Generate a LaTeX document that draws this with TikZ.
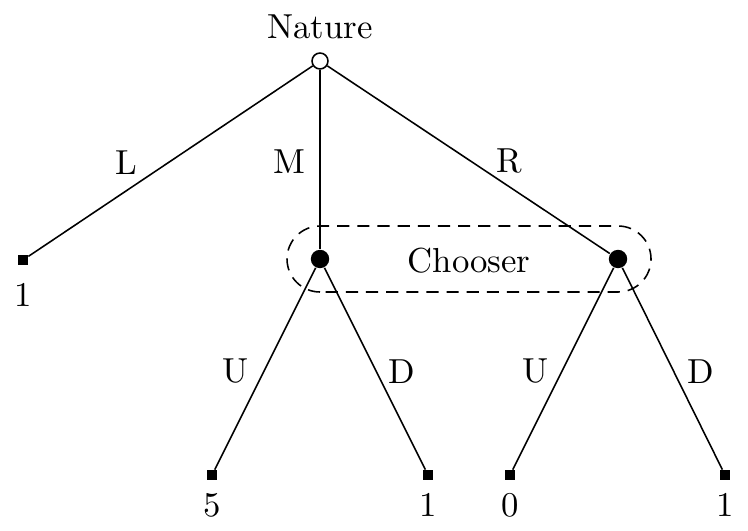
\documentclass[tikz,border=0pt]{standalone}
\begin{document}
\begin{tikzpicture}[x=0.288pt,y=-0.288pt,
  chance/.style={circle,draw,fill=white,inner sep=0pt,minimum size=4.6pt,line width=0.45pt},
  decision/.style={circle,fill=black,inner sep=0pt,minimum size=5.3pt},
  leaf/.style={rectangle,fill=black,inner sep=0pt,minimum size=2.7pt},
  edgelab/.style={midway,inner sep=0pt},
  txt/.style={inner sep=0pt},
  branch/.style={line width=0.45pt},
  infoset/.style={line width=0.45pt,dash pattern=on 3.5pt off 2.3pt}]
\useasboundingbox (0,0) rectangle (748,531);
\node[chance] (nat) at (320,61) {};
\node[txt] (natlab) at (320,27) {Nature};
\node[decision] (c1) at (320,259) {};
\node[decision] (c2) at (618,259) {};
\node[leaf] (l1) at (23,260) {};
\node[leaf] (l2) at (212,475) {};
\node[leaf] (l3) at (428,475) {};
\node[leaf] (l4) at (510,475) {};
\node[leaf] (l5) at (725,475) {};
\node[txt] (p1) at (23,295) {1};
\node[txt] (p2) at (212,505) {5};
\node[txt] (p3) at (428,505) {1};
\node[txt] (p4) at (510,505) {0};
\node[txt] (p5) at (725,505) {1};
\draw[branch] (nat) -- node[edgelab,xshift=-12.8pt,yshift=-0.4pt] {L} (l1);
\draw[branch] (nat) -- node[edgelab,xshift=-8.9pt,yshift=-0.5pt] {M} (c1);
\draw[branch] (nat) -- node[edgelab,xshift=11.8pt,yshift=-0.5pt] {R} (c2);
\draw[branch] (c1) -- node[edgelab,xshift=-8.6pt,yshift=-0.8pt] {U} (l2);
\draw[branch] (c1) -- node[edgelab,xshift=7.8pt,yshift=-0.8pt] {D} (l3);
\draw[branch] (c2) -- node[edgelab,xshift=-8.1pt,yshift=-0.8pt] {U} (l4);
\draw[branch] (c2) -- node[edgelab,xshift=8.2pt,yshift=-0.8pt] {D} (l5);
\draw[infoset] (320,292) arc[start angle=90,end angle=270,x radius=33,y radius=33]
  -- (618,226) arc[start angle=270,end angle=450,x radius=33,y radius=33] -- cycle;
\node[txt] (chlab) at (469,261) {Chooser};
\end{tikzpicture}
\end{document}
